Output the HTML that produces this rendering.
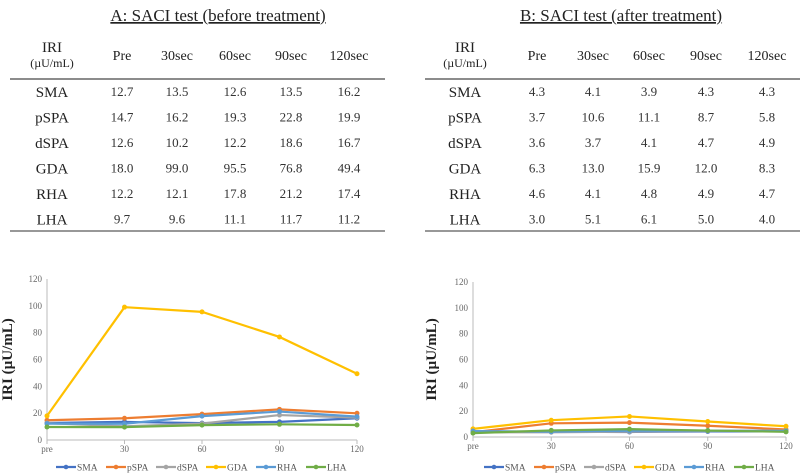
<!DOCTYPE html>
<html><head><meta charset="utf-8">
<style>
body{margin:0;background:#fff;width:800px;height:475px;overflow:hidden;font-family:"Liberation Serif",serif;}
svg{position:absolute;left:0;top:0;}
</style></head>
<body>
<svg id="s" width="800" height="475" xmlns="http://www.w3.org/2000/svg"></svg>
<script>
const rowNames = ["SMA","pSPA","dSPA","GDA","RHA","LHA"];
const colNames = ["Pre","30sec","60sec","90sec","120sec"];
const xTicks = ["pre","30","60","90","120"];
const yTicks = [0,20,40,60,80,100,120];
const colors = ["#4472c4","#ed7d31","#a5a5a5","#ffc000","#5b9bd5","#70ad47"];
const beforeSMA = [12.7,13.5,12.6,13.5,16.2];
const beforePSPA = [14.7,16.2,19.3,22.8,19.9];
const beforeDSPA = [12.6,10.2,12.2,18.6,16.7];
const beforeGDA = [18.0,99.0,95.5,76.8,49.4];
const beforeRHA = [12.2,12.1,17.8,21.2,17.4];
const beforeLHA = [9.7,9.6,11.1,11.7,11.2];
const afterSMA = [4.3,4.1,3.9,4.3,4.3];
const afterPSPA = [3.7,10.6,11.1,8.7,5.8];
const afterDSPA = [3.6,3.7,4.1,4.7,4.9];
const afterGDA = [6.3,13.0,15.9,12.0,8.3];
const afterRHA = [4.6,4.1,4.8,4.9,4.7];
const afterLHA = [3.0,5.1,6.1,5.0,4.0];
const before = [beforeSMA,beforePSPA,beforeDSPA,beforeGDA,beforeRHA,beforeLHA];
const after = [afterSMA,afterPSPA,afterDSPA,afterGDA,afterRHA,afterLHA];

const svg = document.getElementById('s');
const NS = "http://www.w3.org/2000/svg";
function mk(tag, attrs, parent, text){
  const e = document.createElementNS(NS, tag);
  for (const k in attrs) e.setAttribute(k, attrs[k]);
  if (text !== undefined) e.textContent = text;
  (parent||svg).appendChild(e);
  return e;
}

function table(cfg){
  const g = mk('g', {});
  
  
  const t = mk('text', {x:cfg.titleX, y:21, 'text-anchor':'middle', 'font-size':'17', 'text-decoration':'underline', fill:'#222'}, g, cfg.title);
  
  
  mk('text', {x:cfg.labelX, y:52, 'text-anchor':'middle', 'font-size':'15', fill:'#222'}, g, 'IRI');
  mk('text', {x:cfg.labelX, y:67, 'text-anchor':'middle', 'font-size':'12', fill:'#222'}, g, '(\u00b5U/mL)');
  colNames.forEach((c,i)=>{
    const h = mk('text', {x:cfg.cols[i], y:60, 'text-anchor':'middle', 'font-size':'14', fill:'#222'}, g, c);
    
    
  });
  mk('line', {x1:cfg.lineX1, x2:cfg.lineX2, y1:79, y2:79, stroke:'#666', 'stroke-width':'1.5'}, g);
  mk('line', {x1:cfg.lineX1, x2:cfg.lineX2, y1:231, y2:231, stroke:'#777', 'stroke-width':'1.5'}, g);
  rowNames.forEach((r,ri)=>{
    const y = 97 + ri*25.5;
    const l = mk('text', {x:cfg.labelX, y:y, 'text-anchor':'middle', 'font-size':'15', fill:'#222'}, g, r);
    
    
    cfg.data[ri].forEach((v,ci)=>{
      mk('text', {x:cfg.cols[ci], y:y-1, 'text-anchor':'middle', 'font-size':'13', fill:'#333'}, g, v.toFixed(1));
    });
  });
}

table({id:'before', title:'A: SACI test (before treatment)', titleX:218, labelX:52, cols:[122,177,235,291,349], lineX1:10, lineX2:385, data:before});
table({id:'after', title:'B: SACI test (after treatment)', titleX:621, labelX:465, cols:[537,593,649,706,767], lineX1:425, lineX2:800, data:after});

function chart(cfg){
  const g = mk('g', {});
  
  
  const xs = i => cfg.x0 + i*(cfg.x1-cfg.x0)/(xTicks.length-1);
  const ys = v => cfg.y0 - v*(cfg.y0-cfg.y1)/120;
  mk('line', {x1:cfg.x0, x2:cfg.x0, y1:cfg.y1, y2:cfg.y0, stroke:'#bbb', 'stroke-width':'1'}, g);
  mk('line', {x1:cfg.x0, x2:cfg.x1, y1:cfg.y0, y2:cfg.y0, stroke:'#bbb', 'stroke-width':'1'}, g);
  yTicks.forEach(v=>{
    const t = mk('text', {x:cfg.x0-5, y:ys(v)+3, 'text-anchor':'end', 'font-size':'9', fill:'#666'}, g, v);
    
    
  });
  xTicks.forEach((v,i)=>{
    mk('line', {x1:xs(i), x2:xs(i), y1:cfg.y0, y2:cfg.y0+4, stroke:'#bbb'}, g);
    const t = mk('text', {x:xs(i), y:cfg.y0+12, 'text-anchor':'middle', 'font-size':'9', fill:'#666'}, g, v);
    
    
  });
  const cy = (cfg.y0+cfg.y1)/2;
  const yt = mk('text', {x:cfg.titleX, y:cy, 'text-anchor':'middle', 'font-size':'15', 'font-weight':'bold', fill:'#222', transform:`rotate(-90 ${cfg.titleX} ${cy})`}, g, 'IRI (\u00b5U/mL)');
  
  
  cfg.data.forEach((series,si)=>{
    const pts = series.map((v,i)=>xs(i)+','+ys(v)).join(' ');
    const pl = mk('polyline', {points:pts, fill:'none', stroke:colors[si], 'stroke-width':'2.2'}, g);
    
    
    series.forEach((v,i)=>{
      const c = mk('circle', {cx:xs(i), cy:ys(v), r:2.5, fill:colors[si]}, g);
      
      
    });
  });
  rowNames.forEach((r,si)=>{
    const lx = cfg.legX + si*50;
    const lg = mk('g', {}, g);
    
    
    mk('line', {x1:lx, x2:lx+20, y1:cfg.legY, y2:cfg.legY, stroke:colors[si], 'stroke-width':'2.2'}, lg);
    mk('circle', {cx:lx+10, cy:cfg.legY, r:2.3, fill:colors[si]}, lg);
    mk('text', {x:lx+21, y:cfg.legY+3.5, 'font-size':'9.5', fill:'#555'}, lg, r);
  });
}

chart({id:'before', x0:47, x1:357, y0:440, y1:279, titleX:12, legX:56, legY:467, data:before});
chart({id:'after', x0:473, x1:786, y0:437, y1:282, titleX:436, legX:484, legY:467, data:after});
</script>
</body></html>
